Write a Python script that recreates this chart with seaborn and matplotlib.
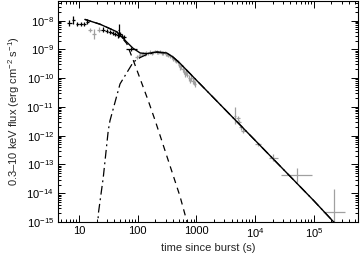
import numpy as np
import pandas as pd
import matplotlib
matplotlib.use("Agg")
import matplotlib.pyplot as plt
import matplotlib.ticker as mticker
import seaborn as sns

# ---- data ----
# black points (early)
blk_t = [6.8, 8.0, 9.35, 10.8, 12.3, 13.9, 25.9, 29.6, 33.7, 37.5, 41.0, 45.6, 47.5, 50.0, 53.0, 58.0, 78.0]
blk_f = [8.4e-9, 1.05e-8, 7.6e-9, 7.6e-9, 7.6e-9, 9.3e-9, 4.9e-9, 4.4e-9, 4.1e-9, 3.7e-9, 3.55e-9, 3.1e-9, 4.6e-9, 3.55e-9, 2.9e-9, 2.6e-9, 1.07e-9]
blk_fe = [0.10, 0.14, 0.07, 0.07, 0.07, 0.08, 0.07, 0.07, 0.07, 0.07, 0.07, 0.08, 0.22, 0.07, 0.08, 0.08, 0.07]
blk_te = [0.04, 0.03, 0.03, 0.03, 0.03, 0.03, 0.03, 0.03, 0.03, 0.03, 0.03, 0.03, 0.01, 0.03, 0.03, 0.03, 0.09]

# grey points (later)
gry_t = [15.4, 18.2, 22.0, 96, 104, 110, 117, 124, 132, 140, 150, 162, 173, 185, 198, 211, 225, 240, 256,
         273, 290, 300, 318, 333, 355, 380, 405,
         430, 455, 480, 505, 527, 555, 580, 610, 640, 670, 700, 740, 780, 820, 860, 900, 950,
         4600, 5100, 5400, 5700, 6200, 11300, 20400, 51000, 221000]
gry_f = [4.7e-9, 3.5e-9, 4.9e-9, 5.4e-10, 5.8e-10, 6.3e-10, 6.7e-10, 7.1e-10, 7.0e-10, 7.6e-10, 7.3e-10, 8.1e-10, 7.6e-10, 7.8e-10, 8.6e-10, 8.1e-10, 7.7e-10, 8.3e-10, 7.6e-10,
         7.4e-10, 7.8e-10, 7.0e-10, 6.6e-10, 6.2e-10, 5.9e-10, 5.4e-10, 4.6e-10,
         4.3e-10, 3.8e-10, 3.6e-10, 2.9e-10, 2.4e-10, 2.6e-10, 2.0e-10, 1.7e-10, 1.4e-10, 1.55e-10, 1.3e-10, 1.0e-10, 8.3e-11, 1.0e-10, 8.0e-11, 7.0e-11, 6.3e-11,
         5.0e-12, 4.0e-12, 3.0e-12, 1.95e-12, 1.5e-12, 5.1e-13, 1.74e-13, 4.4e-14, 2.2e-15]
gry_fe = [0.07, 0.17, 0.07, 0.07, 0.07, 0.07, 0.06, 0.06, 0.06, 0.06, 0.06, 0.06, 0.06, 0.06, 0.06, 0.06, 0.06, 0.06, 0.06,
          0.06, 0.06, 0.06, 0.06, 0.06, 0.06, 0.06, 0.07,
          0.07, 0.07, 0.07, 0.08, 0.08, 0.08, 0.08, 0.09, 0.09, 0.09, 0.09, 0.10, 0.10, 0.10, 0.10, 0.10, 0.10,
          0.30, 0.08, 0.08, 0.08, 0.08, 0.05, 0.12, 0.24, 0.80]
gry_te = [0.03, 0.03, 0.03, 0.02, 0.02, 0.02, 0.02, 0.02, 0.02, 0.02, 0.02, 0.02, 0.02, 0.02, 0.02, 0.02, 0.02, 0.02, 0.02,
          0.02, 0.02, 0.02, 0.02, 0.02, 0.02, 0.02, 0.02,
          0.02, 0.02, 0.02, 0.02, 0.02, 0.02, 0.02, 0.02, 0.02, 0.02, 0.02, 0.02, 0.02, 0.02, 0.02, 0.02, 0.02,
          0.02, 0.03, 0.03, 0.03, 0.03, 0.05, 0.08, 0.27, 0.19]

# model curves
tot_t = [12.6, 22.8, 44, 65, 83, 110, 142, 211, 312, 400, 525, 1000, 1.0e4, 1.0e5, 3.0e5]
tot_f = [1.1e-8, 7.5e-9, 4.1e-9, 1.8e-9, 1.1e-9, 7.5e-10, 7.1e-10, 8.1e-10, 7.5e-10, 5.4e-10, 3.3e-10, 8.5e-11, 6.9e-13, 5.5e-15, 5.0e-16]
flr_t = [12.6, 22.8, 44, 65, 84, 110, 151, 200, 525, 760]
flr_f = [1.1e-8, 7.5e-9, 4.1e-9, 1.6e-9, 4.2e-10, 9.5e-11, 1.66e-11, 3.2e-12, 7.9e-15, 5.0e-16]
rise_t = [20.6, 21.4, 25.9, 31.5, 33.7, 50, 84, 110, 142, 211, 312, 400, 525, 1000, 1.0e4, 1.0e5, 3.0e5]
rise_f = [5.0e-16, 2.0e-15, 3.5e-14, 1.5e-12, 3.3e-12, 6.3e-11, 3.6e-10, 5.2e-10, 6.6e-10, 8.0e-10, 7.5e-10, 5.4e-10, 3.3e-10, 8.5e-11, 6.9e-13, 5.5e-15, 5.0e-16]

x_ticks = [10, 100, 1000, 1e4, 1e5]
x_labels = ["10", "100", "1000", "$10^{4}$", "$10^{5}$"]
y_ticks = [1e-15, 1e-14, 1e-13, 1e-12, 1e-11, 1e-10, 1e-9, 1e-8]

# ---- style ----
sns.set_theme(style="ticks")
plt.rcParams["font.family"] = ["Liberation Sans", "DejaVu Sans"]
plt.rcParams["mathtext.fontset"] = "custom"
plt.rcParams["mathtext.rm"] = "Liberation Sans"
plt.rcParams["mathtext.it"] = "Liberation Sans:italic"
plt.rcParams["mathtext.bf"] = "Liberation Sans:bold"

fig = plt.figure(figsize=(3.6, 2.56), dpi=100)
ax = fig.add_axes([58 / 360, 34 / 256, 300 / 360, 221 / 256])
ax.set_xscale("log")
ax.set_yscale("log")


def asym(vals, dex):
    v = np.asarray(vals, float)
    d = np.asarray(dex, float)
    return np.vstack([v - v / 10 ** d, v * 10 ** d - v])


ax.errorbar(gry_t, gry_f, yerr=asym(gry_f, gry_fe), xerr=asym(gry_t, gry_te),
            fmt="none", ecolor="#a0a0a0", elinewidth=0.9, capsize=0, zorder=2)
ax.errorbar(blk_t, blk_f, yerr=asym(blk_f, blk_fe), xerr=asym(blk_t, blk_te),
            fmt="none", ecolor="black", elinewidth=0.9, capsize=0, zorder=3)

df_tot = pd.DataFrame({"t": tot_t, "f": tot_f})
df_flr = pd.DataFrame({"t": flr_t, "f": flr_f})
df_rise = pd.DataFrame({"t": rise_t, "f": rise_f})
sns.lineplot(data=df_rise, x="t", y="f", ax=ax, color="black", lw=0.9,
             linestyle=(0, (7, 3, 1.5, 3)), sort=False, zorder=4)
sns.lineplot(data=df_flr, x="t", y="f", ax=ax, color="black", lw=0.9,
             linestyle=(0, (5, 4)), sort=False, zorder=4)
sns.lineplot(data=df_tot, x="t", y="f", ax=ax, color="black", lw=1.0,
             sort=False, zorder=5)

ax.set_xlim(4.39, 5.66e5)
ax.set_ylim(1e-15, 4.8e-8)

ax.set_xticks(x_ticks)
ax.set_xticklabels(x_labels)
ax.xaxis.set_minor_locator(mticker.LogLocator(base=10, subs=np.arange(2, 10), numticks=20))
ax.xaxis.set_minor_formatter(mticker.NullFormatter())
ax.set_yticks(y_ticks)
ax.yaxis.set_major_formatter(mticker.LogFormatterSciNotation())
ax.yaxis.set_minor_locator(mticker.LogLocator(base=10, subs=np.arange(2, 10), numticks=30))
ax.yaxis.set_minor_formatter(mticker.NullFormatter())

ax.tick_params(which="both", direction="in", top=True, right=True, colors="black",
               labelsize=8, width=0.7, pad=3)
ax.tick_params(which="major", length=5)
ax.tick_params(which="minor", length=2.5)
for s in ax.spines.values():
    s.set_linewidth(0.8)
    s.set_color("black")

ax.set_xlabel("time since burst (s)", fontsize=8, labelpad=2)
ax.set_ylabel("0.3\u201310 keV flux (erg cm$^{-2}$ s$^{-1}$)", fontsize=8, labelpad=3)

fig.savefig("out.png", dpi=100)
